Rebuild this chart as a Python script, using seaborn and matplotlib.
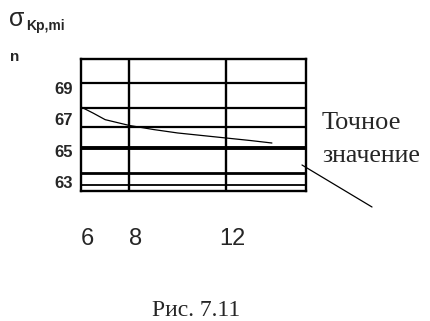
import matplotlib
matplotlib.use("Agg")
import matplotlib.pyplot as plt
import matplotlib.transforms as mtransforms
import pandas as pd
import seaborn as sns

# Curve: stress estimate versus n
n_values = [6.0, 6.5, 7.0, 8.0, 9.0, 10.0, 11.0, 12.0, 13.0, 13.9]
sigma_values = [67.79, 67.40, 66.98, 66.61, 66.35, 66.13, 65.97, 65.81, 65.65, 65.49]

# Horizontal reference levels (the heavy one is the exact value)
level_values = [69.29, 67.72, 66.48, 65.20, 63.57, 62.84]
level_widths = [1.6, 1.6, 1.6, 2.8, 2.0, 1.3]

# Vertical grid positions and tick labels
grid_x = [8, 12]
x_ticks = [6, 8, 12]
x_tick_labels = ["6", "8", "12"]
y_ticks = [63, 65, 67, 69]
y_tick_labels = ["63", "65", "67", "69"]

sns.set_theme(style="white")
plt.rcParams["font.family"] = ["Liberation Sans", "DejaVu Sans"]

W, H = 430, 321
fig = plt.figure(figsize=(W / 100, H / 100), dpi=100)
ax = fig.add_axes([81 / W, 1 - 190.5 / H, 225 / W, 131.5 / H])

df = pd.DataFrame({"n": n_values, "sigma": sigma_values})
sns.lineplot(data=df, x="n", y="sigma", ax=ax, color="black", linewidth=0.9)

for lv, lw in zip(level_values, level_widths):
    ax.axhline(lv, color="black", linewidth=lw)
for gx in grid_x:
    ax.axvline(gx, color="black", linewidth=1.7)

ax.set_xlim(6, 15.31)
ax.set_ylim(62.46, 70.85)
ax.set_xlabel("")
ax.set_ylabel("")

ax.set_xticks(x_ticks, x_tick_labels)
ax.set_yticks(y_ticks, y_tick_labels)
ax.tick_params(axis="x", length=0, labelsize=17, pad=27)
ax.tick_params(axis="y", length=0, labelsize=12, pad=5.5)
for lab in ax.get_yticklabels():
    lab.set_fontweight("bold")
shift = mtransforms.ScaledTranslation(6 / 100, 0, fig.dpi_scale_trans)
for lab in ax.get_xticklabels():
    lab.set_transform(lab.get_transform() + shift)

for s in ax.spines.values():
    s.set_visible(True)
    s.set_color("black")
    s.set_linewidth(1.7)

# Axis captions
fig.text(9 / W, 1 - 26 / H, "σ", fontsize=18, va="baseline", ha="left")
fig.text(26 / W, 1 - 30 / H, "Kp,mi", fontsize=10, fontweight="bold",
         va="baseline", ha="left")
fig.text(10 / W, 1 - 61 / H, "n", fontsize=11, fontweight="bold",
         va="baseline", ha="left")

# Annotation for the exact value
serif = ["Liberation Serif", "DejaVu Serif"]
fig.text(322 / W, 1 - 129 / H, "Точное", fontsize=19, family=serif,
         va="baseline", ha="left")
fig.text(322 / W, 1 - 162 / H, "значение", fontsize=18.5, family=serif,
         va="baseline", ha="left")
ax.annotate("", xy=(302 / W, 1 - 165 / H), xytext=(372 / W, 1 - 207 / H),
            xycoords="figure fraction", textcoords="figure fraction",
            arrowprops=dict(arrowstyle="-", color="black", linewidth=0.9,
                            shrinkA=0, shrinkB=0))

fig.text(196 / W, 1 - 316 / H, "Рис. 7.11", fontsize=17, family=serif,
         va="baseline", ha="center")

fig.savefig("out.png", dpi=100, facecolor="white")
